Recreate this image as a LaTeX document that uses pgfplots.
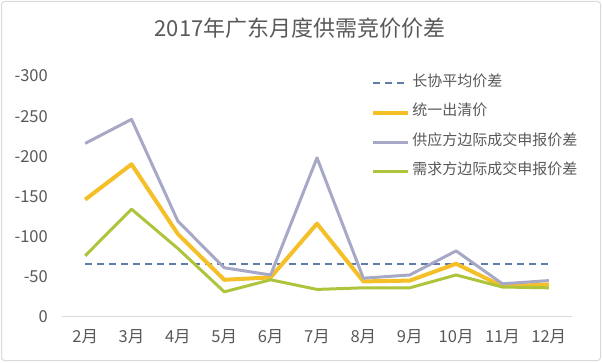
\documentclass[border=0pt]{standalone}
\usepackage{fontspec}
\setmainfont{Noto Sans CJK SC}
\usepackage{pgfplots}
\pgfplotsset{compat=1.18}
\definecolor{txt}{HTML}{595959}
\definecolor{framec}{HTML}{D9D9D9}
\definecolor{axc}{HTML}{D9D9D9}
\definecolor{avgc}{HTML}{5F7CA8}
\definecolor{clearc}{HTML}{F5BF28}
\definecolor{supc}{HTML}{A7A8C6}
\definecolor{demc}{HTML}{AEC43C}
\begin{document}
\begin{tikzpicture}[x=1pt,y=1pt]
\path[use as bounding box] (0,0) rectangle (602,362);
\draw[framec, rounded corners=3pt, line width=1pt] (1.5,1.5) rectangle (600.5,360.5);
\node[txt, font=\fontsize{22}{24}\selectfont] at (300,334) {2017年广东月度供需竞价价差};
\begin{axis}[
  at={(317pt,165.65pt)}, anchor=center,
  scale only axis, width=510pt, height=240.7pt,
  xmin=-0.5, xmax=10.5, ymin=-300, ymax=0, y dir=reverse,
  axis line style={draw=none},
  major tick length=0pt,
  xtick={0,...,10},
  xticklabels={2月,3月,4月,5月,6月,7月,8月,9月,10月,11月,12月},
  ytick={-300,-250,-200,-150,-100,-50,0},
  yticklabels={-300,-250,-200,-150,-100,-50,0},
  tick label style={font=\fontsize{16.5}{18}\selectfont, text=txt, inner sep=0pt},
  yticklabel style={anchor=east, xshift=-14pt},
  xticklabel style={anchor=center, yshift=-20.3pt},
  clip=false,
  legend cell align=left,
  legend style={at={(axis cs:6.16,-300)}, anchor=north west, draw=none, fill=none,
    font=\fontsize{15}{17}\selectfont, text=txt, inner sep=0pt,
    row sep=15.5pt,
    nodes={inner sep=0pt, text height=10pt, text depth=4pt}},
  legend image code/.code={\draw[#1] (0pt,0pt) -- (35pt,0pt);},
]
\draw[axc, line width=1pt] (axis cs:-0.5,0) -- (axis cs:10.5,0);
\addplot[avgc, line width=1.5pt, dash pattern=on 7pt off 5pt] coordinates {
(0,-66) (1,-66) (2,-66) (3,-66) (4,-66) (5,-66) (6,-66) (7,-66) (8,-66) (9,-66) (10,-66)};
\addlegendentry{\,长协平均价差}
\addplot[clearc, line width=4pt, line join=round] coordinates {
(0,-146) (1,-190) (2,-103) (3,-46) (4,-49) (5,-116) (6,-44) (7,-45) (8,-66) (9,-38) (10,-40)};
\addlegendentry{\,统一出清价}
\addplot[supc, line width=3pt, line join=round] coordinates {
(0,-216) (1,-246) (2,-119) (3,-61) (4,-52) (5,-198) (6,-48) (7,-52) (8,-82) (9,-41) (10,-45)};
\addlegendentry{\,供应方边际成交申报价差}
\addplot[demc, line width=3pt, line join=round] coordinates {
(0,-76) (1,-134) (2,-85) (3,-31) (4,-46) (5,-34) (6,-36) (7,-36) (8,-52) (9,-37) (10,-36)};
\addlegendentry{\,需求方边际成交申报价差}
\end{axis}
\end{tikzpicture}
\end{document}
